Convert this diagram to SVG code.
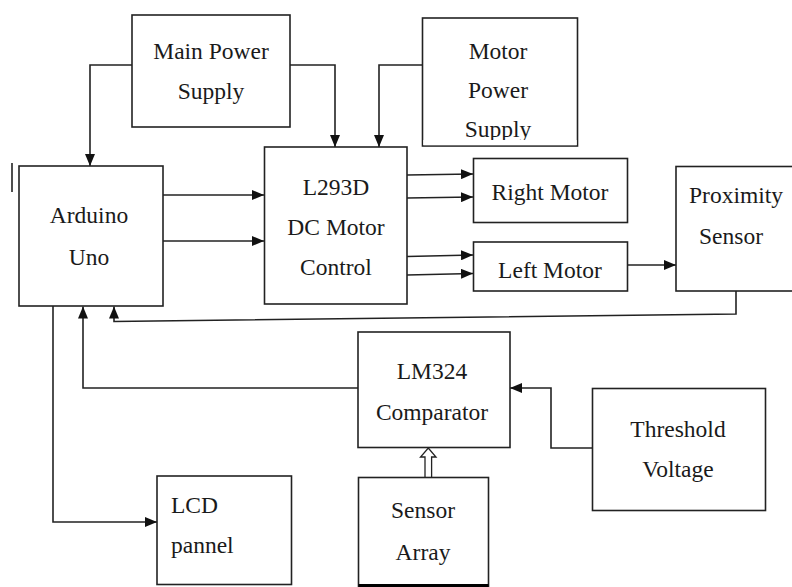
<svg xmlns="http://www.w3.org/2000/svg" width="792" height="587" viewBox="0 0 792 587">
<style>
.box{fill:#fff;stroke:#222;stroke-width:1.6}
.t{font-family:'Liberation Serif','Times New Roman','DejaVu Serif',serif;font-size:23.5px;fill:#1a1a1a;text-anchor:middle}
.tl{text-anchor:start}
.c{fill:none;stroke:#222;stroke-width:1.6}
.ca{fill:none;stroke:#222;stroke-width:1.6;marker-end:url(#ah)}
</style>
<defs>
<marker id="ah" viewBox="0 0 12 10" refX="12" refY="5" markerWidth="12" markerHeight="10" markerUnits="userSpaceOnUse" orient="auto">
<path d="M0,0 L12,5 L0,10 Z" fill="#111"/>
</marker>
</defs>
<rect width="792" height="587" fill="#fff"/>

<g id="connectors">
<polyline class="ca" points="132,65 90,65 90,166"/>
<polyline class="ca" points="290,65 335,65 335,147"/>
<polyline class="ca" points="422,65 379,65 379,147"/>
<line class="ca" x1="163" y1="195" x2="264" y2="195"/>
<line class="ca" x1="163" y1="241" x2="264" y2="241"/>
<line class="ca" x1="407" y1="175" x2="473" y2="174"/>
<line class="ca" x1="407" y1="198" x2="473" y2="197"/>
<line class="ca" x1="407" y1="256.5" x2="473" y2="255"/>
<line class="ca" x1="407" y1="275" x2="473" y2="273.5"/>
<line class="ca" x1="628" y1="265" x2="676" y2="265"/>
<polyline class="ca" points="736,291 736,314 114,321.5 114,306.5"/>
<polyline class="ca" points="358,388 83,388 83,306.5"/>
<polyline class="ca" points="53,306 53,522 157,522"/>
<polyline class="ca" points="592,448 551,448 551,388 510,388"/>
<path d="M425,477.5 L425,457 L420.5,457 L428.3,448 L436,457 L431.6,457 L431.6,477.5" fill="#fff" stroke="#222" stroke-width="1.3"/>
<line class="c" x1="12" y1="163" x2="12" y2="192"/>
</g>

<g id="main-power">
<rect class="box" x="132" y="15" width="158" height="112"/>
<text class="t" font-family="Liberation Serif, serif" x="211" y="59">Main Power</text>
<text class="t" font-family="Liberation Serif, serif" x="211" y="99">Supply</text>
</g>

<g id="motor-power">
<rect class="box" x="422.5" y="18" width="155" height="128"/>
<text class="t" x="498" y="59">Motor</text>
<text class="t" x="498" y="98">Power</text>
<text class="t" x="498" y="137">Supply</text>
<rect x="423.3" y="140" width="153.4" height="5.2" fill="#fff"/>
</g>

<g id="arduino">
<rect class="box" x="19" y="166" width="144" height="140"/>
<text class="t" x="89" y="223">Arduino</text>
<text class="t" x="89" y="265">Uno</text>
</g>

<g id="l293d">
<rect class="box" x="264.5" y="147" width="142.5" height="157"/>
<text class="t" x="336" y="195">L293D</text>
<text class="t" x="336" y="235">DC Motor</text>
<text class="t" x="336" y="275">Control</text>
</g>

<g id="right-motor">
<rect class="box" x="473.5" y="158.5" width="154" height="64"/>
<text class="t" x="550" y="200">Right Motor</text>
</g>

<g id="left-motor">
<rect class="box" x="473.5" y="242" width="154" height="49"/>
<text class="t" x="550" y="278">Left Motor</text>
</g>

<g id="proximity">
<rect class="box" x="676" y="166.5" width="130" height="124.5"/>
<text class="t" x="736" y="203">Proximity</text>
<text class="t" x="731" y="244">Sensor</text>
</g>

<g id="lm324">
<rect class="box" x="358" y="332" width="152" height="115.5"/>
<text class="t" x="432" y="379">LM324</text>
<text class="t" x="432" y="420">Comparator</text>
</g>

<g id="threshold">
<rect class="box" x="592.5" y="388.5" width="173" height="122"/>
<text class="t" x="678" y="437">Threshold</text>
<text class="t" x="678" y="477">Voltage</text>
</g>

<g id="lcd">
<rect class="box" x="157" y="476" width="134.5" height="108.5"/>
<text class="t tl" x="171" y="513">LCD</text>
<text class="t tl" x="171" y="553">pannel</text>
</g>

<g id="sensor-array">
<rect class="box" x="358.5" y="477.5" width="130" height="110"/>
<line x1="358.5" y1="585.5" x2="488.5" y2="585.5" stroke="#000" stroke-width="3"/>
<text class="t" x="423" y="518">Sensor</text>
<text class="t" x="423" y="560">Array</text>
</g>
</svg>
